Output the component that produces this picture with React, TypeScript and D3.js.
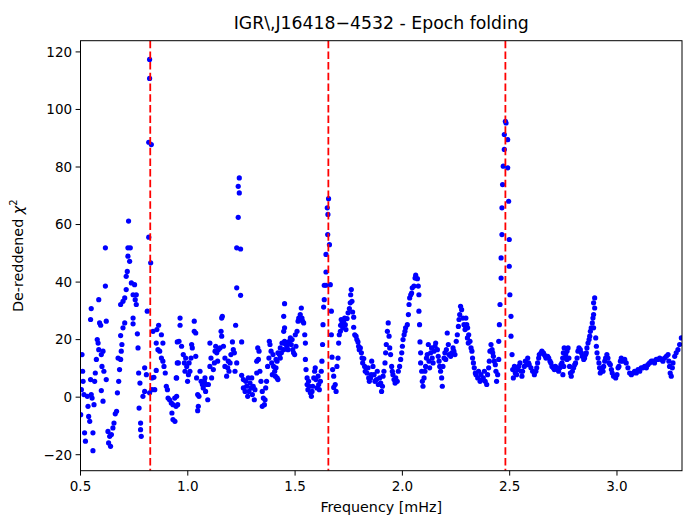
import React from "react";
import * as d3 from "d3";

const titleText = "IGR\\,J16418\u22124532 - Epoch folding";
const xLabelText = "Frequency [mHz]";
const xTicks = [0.5, 1.0, 1.5, 2.0, 2.5, 3.0];
const yTicks = [-20, 0, 20, 40, 60, 80, 100, 120];
const harmonics = [0.825, 1.655, 2.48];

// [frequency (mHz), de-reddened chi^2]
const seg1: [number, number][] = [
  [0.501,-6.1],[0.504,2.6],[0.507,14.8],[0.510,9.0],[0.512,5.5],[0.516,0.9],[0.519,-12.4],[0.523,-15.3],
  [0.532,0.3],[0.535,-3.2],[0.538,-6.7],[0.543,-8.4],[0.547,6.1],[0.547,27.0],[0.550,30.8],[0.550,0.9],
  [0.554,-0.3],[0.558,-12.4],[0.558,-18.6],[0.563,-2.6],[0.566,5.5],[0.569,8.4],[0.574,13.1],[0.578,20.0],
  [0.582,18.8],[0.585,16.5],[0.585,33.9],[0.589,25.8],[0.594,25.0],[0.597,14.8],[0.597,2.3],[0.600,10.7],
  [0.605,16.0],[0.605,-1.4],[0.609,9.0],[0.616,51.9],[0.616,38.6],[0.620,26.4],[0.620,6.1],[0.628,-11.9],
  [0.631,-15.9],[0.636,-13.6],[0.640,-17.1],[0.644,-13.0],[0.651,-10.7],[0.656,-9.0],[0.662,-5.8],[0.668,-4.9],
  [0.672,1.5],[0.675,13.6],[0.678,5.5],[0.682,9.6],[0.687,13.1],[0.687,21.4],[0.687,32.2],[0.690,16.0],
  [0.693,18.3],[0.698,24.1],[0.698,33.3],[0.706,25.8],[0.706,34.5],[0.713,37.4],[0.713,42.0],[0.718,43.7],
  [0.721,49.0],[0.721,51.9],[0.724,61.2],[0.729,47.2],[0.732,51.9],[0.737,39.7],[0.745,35.6],[0.745,27.5],
  [0.745,25.5],[0.752,39.1],[0.755,33.9],[0.760,35.6],[0.760,32.2],[0.765,22.0],[0.768,17.1],[0.771,8.4],
  [0.773,-3.8],[0.777,4.9],[0.780,-9.0],[0.780,-11.3],[0.783,-13.6],[0.791,0.3],[0.799,10.2],[0.799,2.0],
  [0.807,7.8],[0.811,29.9],[0.818,88.6],[0.818,55.6],[0.822,117.4],[0.822,110.8],[0.822,1.5],[0.827,46.7],
  [0.830,87.8],[0.833,6.7],[0.833,2.6],[0.838,22.9],[0.842,6.9],[0.846,2.6],[0.853,9.3],[0.853,18.8],
  [0.856,23.5],[0.861,16.5],[0.864,25.0],[0.869,16.0],[0.877,21.7],[0.877,13.6],[0.884,18.8],[0.884,12.5],
  [0.889,10.7],[0.895,8.4],[0.900,3.8],[0.905,2.6],[0.908,-0.3],[0.915,-0.9],[0.923,-2.0],[0.926,-5.5],
  [0.931,-2.6],[0.931,-7.8],[0.939,-0.3],[0.946,6.7],[0.951,11.9],[0.951,19.2],
];

const seg2: [number, number][] = [
  [0.940,-8.4],[0.945,-3.2],[0.948,0.3],[0.948,6.7],[0.953,-2.6],[0.956,11.9],[0.959,19.4],[0.964,27.5],
  [0.964,25.0],[0.971,17.7],[0.979,14.8],[0.984,11.9],[0.987,9.0],[0.990,13.6],[0.995,10.7],[0.999,5.5],
  [1.003,7.8],[1.006,11.9],[1.010,9.0],[1.015,13.6],[1.018,18.3],[1.021,17.1],[1.030,26.4],[1.030,22.9],
  [1.037,22.3],[1.037,14.2],[1.041,6.7],[1.046,0.9],[1.046,-4.7],[1.049,-3.2],[1.052,0.3],[1.057,9.0],
  [1.062,5.5],[1.068,4.4],[1.072,3.2],[1.077,5.5],[1.080,6.7],[1.083,2.0],[1.088,4.4],[1.093,-0.9],
  [1.096,4.4],[1.103,10.7],[1.103,18.8],[1.108,13.6],[1.111,6.7],[1.119,9.6],[1.124,11.9],[1.127,16.0],
  [1.130,17.7],[1.135,15.4],[1.139,12.5],[1.142,16.5],[1.150,17.1],[1.155,22.9],[1.158,27.5],[1.161,28.1],
  [1.158,21.2],[1.166,17.7],[1.173,13.6],[1.173,10.7],[1.181,7.3],[1.186,10.2],[1.189,12.5],[1.192,9.0],
  [1.197,11.9],[1.201,14.8],[1.208,19.2],[1.212,16.5],[1.217,15.4],[1.220,9.0],[1.223,25.0],[1.228,11.9],
  [1.228,51.9],[1.228,38.0],[1.235,73.3],[1.235,62.5],[1.240,76.2],[1.240,71.0],[1.246,51.5],[1.246,35.4],
  [1.251,19.2],[1.251,7.6],[1.259,6.1],[1.259,3.2],[1.267,2.0],[1.270,5.5],[1.274,3.8],[1.279,0.3],
  [1.282,6.7],[1.285,2.0],[1.290,4.9],[1.294,3.2],[1.298,6.7],[1.301,0.9],[1.305,3.8],[1.310,-0.9],
  [1.313,2.6],[1.321,8.4],[1.321,12.5],[1.326,17.1],[1.329,13.1],[1.332,16.0],[1.336,9.0],[1.341,5.5],
  [1.347,2.0],[1.347,-3.2],[1.352,-0.3],[1.357,-2.6],[1.360,-0.9],[1.363,3.2],[1.367,5.5],[1.372,10.7],
  [1.378,13.6],[1.380,19.4],[1.383,18.3],[1.388,16.0],[1.391,11.9],[1.394,7.8],
];

const seg3: [number, number][] = [
  [1.397,14.8],[1.400,10.7],[1.405,9.0],[1.408,7.3],[1.411,10.2],[1.411,13.1],[1.416,6.7],[1.416,12.5],
  [1.420,6.1],[1.420,15.4],[1.427,14.8],[1.431,17.1],[1.431,13.6],[1.436,15.4],[1.439,18.8],[1.447,16.5],
  [1.447,22.9],[1.447,28.1],[1.451,19.4],[1.451,24.1],[1.451,32.5],[1.455,18.5],[1.462,17.7],[1.467,16.5],
  [1.470,18.8],[1.473,19.4],[1.478,20.6],[1.482,18.3],[1.486,20.0],[1.489,16.5],[1.493,15.4],[1.498,14.8],
  [1.501,21.7],[1.504,17.7],[1.509,22.9],[1.514,26.4],[1.517,27.5],[1.520,27.0],[1.524,28.7],[1.529,31.0],
  [1.532,27.5],[1.535,26.4],[1.540,25.8],[1.545,21.7],[1.548,18.8],[1.548,13.1],[1.551,9.6],[1.556,6.7],
  [1.556,4.4],[1.560,2.6],[1.563,5.5],[1.566,3.8],[1.571,1.5],[1.576,0.3],[1.579,2.0],[1.582,3.8],
  [1.587,6.7],[1.591,9.0],[1.594,10.2],[1.597,6.1],[1.602,3.2],[1.607,7.3],[1.610,4.4],[1.613,2.6],
  [1.618,5.5],[1.622,9.0],[1.625,12.5],[1.628,18.3],[1.630,25.2],[1.633,31.3],[1.636,33.9],[1.636,38.9],
  [1.644,38.9],[1.644,43.5],[1.644,49.6],[1.652,56.5],[1.653,63.5],[1.650,65.8],[1.656,69.0],[1.660,53.0],
  [1.664,39.1],[1.669,29.9],[1.669,21.7],[1.672,13.9],[1.675,9.6],[1.680,7.3],[1.680,3.4],[1.687,4.4],
  [1.691,2.0],[1.695,10.7],[1.700,13.6],[1.703,18.8],[1.706,21.7],[1.711,22.9],[1.712,25.0],[1.715,27.0],
  [1.719,25.8],[1.722,24.1],[1.726,26.4],[1.731,27.5],[1.734,25.2],[1.737,23.5],[1.742,27.3],[1.747,29.3],
  [1.753,30.8],[1.757,32.8],[1.759,35.6],[1.762,37.4],[1.765,33.3],[1.768,29.6],[1.773,27.8],[1.773,24.3],
  [1.778,21.7],[1.784,21.2],[1.788,20.0],[1.793,19.2],[1.796,17.7],[1.799,16.5],[1.804,17.1],[1.809,15.4],
  [1.812,13.6],[1.815,11.9],[1.820,13.4],[1.824,10.7],[1.827,9.0],[1.835,8.4],[1.840,10.2],[1.843,6.7],
  [1.846,5.5],[1.855,7.8],
];

const seg4: [number, number][] = [
  [1.852,6.7],[1.857,12.5],[1.863,10.7],[1.868,7.8],[1.872,5.5],[1.879,6.1],[1.883,9.0],[1.888,4.4],
  [1.894,6.7],[1.899,4.9],[1.903,2.0],[1.907,3.8],[1.910,7.3],[1.914,9.0],[1.919,11.9],[1.922,15.4],
  [1.925,18.3],[1.930,22.9],[1.934,25.8],[1.938,21.2],[1.941,17.1],[1.945,14.8],[1.950,10.7],[1.953,9.0],
  [1.956,7.8],[1.961,6.1],[1.966,4.9],[1.969,6.7],[1.976,5.5],[1.981,9.0],[1.987,10.7],[1.992,13.1],
  [1.997,15.4],[2.000,17.7],[2.003,20.0],[2.008,21.7],[2.012,22.9],[2.015,24.1],[2.023,25.2],[2.028,28.7],
  [2.031,32.2],[2.034,34.5],[2.039,35.6],[2.043,36.2],[2.046,38.0],[2.054,38.6],[2.059,41.4],[2.062,42.4],
  [2.070,41.2],[2.074,38.6],[2.077,35.6],[2.077,29.9],[2.080,25.2],[2.082,19.2],[2.085,15.4],[2.085,11.9],
  [2.090,9.0],[2.093,5.5],[2.096,3.8],[2.101,6.7],[2.105,9.0],[2.108,10.7],[2.112,13.6],[2.116,14.8],
  [2.121,18.3],[2.124,12.5],[2.127,10.2],[2.132,15.4],[2.136,17.1],[2.139,13.6],[2.143,11.9],[2.147,16.0],
  [2.152,17.7],[2.155,18.8],[2.163,16.5],[2.167,14.2],[2.171,12.5],[2.174,10.7],[2.178,9.0],[2.183,6.7],
  [2.186,3.8],[2.189,10.7],[2.194,13.6],[2.198,15.4],[2.202,13.1],[2.205,16.5],[2.209,22.3],[2.214,18.3],
  [2.217,14.8],[2.225,14.2],[2.230,15.4],[2.236,17.1],[2.240,16.0],[2.245,14.8],[2.251,19.4],[2.256,21.7],
  [2.261,24.6],[2.264,27.0],[2.267,28.7],[2.271,31.6],[2.276,30.4],[2.282,27.5],[2.287,25.2],[2.292,23.5],
  [2.295,24.1],[2.303,20.6],[2.307,18.8],
];

const seg5: [number, number][] = [
  [2.296,27.5],[2.300,25.2],[2.304,24.1],[2.309,21.7],[2.315,19.4],[2.320,17.1],[2.324,16.0],[2.327,13.6],
  [2.331,11.9],[2.335,10.2],[2.340,8.4],[2.343,7.8],[2.351,6.7],[2.355,9.0],[2.362,5.5],[2.366,7.8],
  [2.371,6.1],[2.377,6.7],[2.382,9.0],[2.386,5.5],[2.393,4.4],[2.397,7.8],[2.402,10.2],[2.405,12.5],
  [2.408,16.0],[2.413,18.3],[2.418,16.5],[2.421,15.4],[2.424,14.2],[2.428,12.5],[2.433,11.3],[2.436,9.0],
  [2.439,5.5],[2.444,7.8],[2.449,13.1],[2.449,19.4],[2.452,25.2],[2.455,32.2],[2.460,41.4],[2.460,48.4],
  [2.464,56.5],[2.464,65.8],[2.467,73.9],[2.470,80.3],[2.475,86.1],[2.475,91.3],[2.480,95.9],[2.483,95.3],
  [2.491,89.5],[2.491,79.7],[2.495,68.1],[2.498,54.8],[2.498,45.5],[2.501,35.6],[2.506,28.1],[2.506,21.2],
  [2.511,14.8],[2.514,9.6],[2.517,6.7],[2.522,10.7],[2.526,8.4],[2.529,10.2],[2.532,7.8],[2.537,9.6],
  [2.542,10.7],[2.548,11.9],[2.553,9.0],[2.557,7.3],[2.560,9.0],[2.568,10.7],[2.573,12.5],[2.579,11.3],
  [2.584,13.6],[2.588,11.9],[2.591,11.3],[2.599,10.2],[2.607,9.0],[2.615,7.8],[2.622,9.0],[2.626,10.2],
  [2.630,11.9],[2.635,13.6],[2.638,14.8],[2.646,15.4],[2.650,16.0],[2.657,15.4],[2.661,14.8],[2.666,14.2],
  [2.669,13.6],[2.677,14.2],[2.682,13.6],[2.688,12.5],[2.692,11.9],[2.697,10.7],[2.703,10.2],[2.708,9.6],
  [2.713,10.7],[2.719,10.2],[2.723,9.6],[2.728,9.0],[2.734,10.2],[2.739,11.3],[2.744,11.9],[2.747,13.6],
  [2.750,15.4],[2.754,17.1],
];

const seg6: [number, number][] = [
  [2.748,7.8],[2.752,10.7],[2.756,13.6],[2.761,14.8],[2.767,16.0],[2.767,13.1],[2.772,17.1],[2.776,13.6],
  [2.779,10.7],[2.783,8.4],[2.787,7.3],[2.792,9.0],[2.798,10.2],[2.803,11.3],[2.807,11.9],[2.814,13.6],
  [2.818,16.0],[2.823,17.1],[2.829,16.5],[2.834,15.4],[2.838,14.2],[2.845,13.1],[2.849,13.6],[2.854,14.8],
  [2.857,15.4],[2.860,17.1],[2.865,18.8],[2.870,20.0],[2.873,21.2],[2.876,22.9],[2.880,24.1],[2.885,25.8],
  [2.888,27.5],[2.891,28.7],[2.891,32.8],[2.896,31.0],[2.896,34.5],[2.891,24.1],[2.901,20.6],[2.904,17.7],
  [2.907,15.4],[2.912,13.6],[2.916,11.9],[2.919,10.2],[2.922,8.4],[2.927,9.0],[2.932,10.2],[2.935,9.0],
  [2.938,10.7],[2.943,12.5],[2.947,13.6],[2.953,14.8],[2.958,13.6],[2.963,11.9],[2.969,11.3],[2.974,9.6],
  [2.978,8.4],[2.984,7.3],[2.994,6.7],[3.000,7.8],[3.005,10.2],[3.009,10.7],[3.016,12.5],[3.020,13.6],
  [3.028,12.5],[3.036,13.1],[3.043,11.9],[3.051,10.2],[3.059,8.4],[3.067,7.8],[3.075,8.4],[3.082,9.0],
  [3.090,8.4],[3.098,9.6],[3.106,9.0],[3.113,10.2],[3.121,10.2],[3.129,10.7],[3.137,10.2],[3.144,11.3],
  [3.152,11.9],[3.160,12.5],[3.168,12.5],[3.175,11.9],[3.183,13.1],[3.191,13.1],[3.199,13.6],[3.207,13.1],
  [3.214,12.5],[3.222,13.6],[3.230,14.2],[3.238,14.8],[3.242,12.5],[3.245,10.7],[3.248,8.4],[3.253,7.3],
  [3.258,10.2],[3.261,11.9],[3.269,14.2],[3.276,15.4],[3.284,16.5],[3.292,18.3],[3.300,20.6],
];

const W = 687;
const H = 516;
const left = 80.5;
const right = 682;
const top = 40.7;
const bottom = 470.7;
const FONT = "DejaVu Sans";

export default function App() {
  const x = d3.scaleLinear().domain([0.5, 3.303]).range([left, right]);
  const y = d3.scaleLinear().domain([-25.56, 123.9]).range([bottom, top]);
  const points = [...seg1, ...seg2, ...seg3, ...seg4, ...seg5, ...seg6];
  const fx = d3.format(".1f");
  const fy = (v: number) => d3.format("d")(v).replace("-", "\u2212");
  const tickLen = 4.9;

  return (
    <div style={{ position: "absolute", left: 0, top: 0 }}>
      <svg width={W} height={H} style={{ display: "block" }} fontFamily={FONT}>
        <rect x={0} y={0} width={W} height={H} fill="#ffffff" />
        <defs>
          <clipPath id="plotArea">
            <rect x={left} y={top} width={right - left} height={bottom - top} />
          </clipPath>
        </defs>
        <g clipPath="url(#plotArea)">
          {points.map((p, i) => (
            <circle key={i} cx={x(p[0])} cy={y(p[1])} r={2.6} fill="#0000ff" />
          ))}
          {harmonics.map((h, i) => (
            <line
              key={"h" + i}
              x1={x(h)}
              x2={x(h)}
              y1={top}
              y2={bottom}
              stroke="#ff0000"
              strokeWidth={1.8}
              strokeDasharray="7.5,3.2"
            />
          ))}
        </g>
        <rect x={left} y={top} width={right - left} height={bottom - top} fill="none" stroke="#000" strokeWidth={1} />
        {xTicks.map((t, i) => (
          <g key={"xt" + i}>
            <line x1={x(t)} x2={x(t)} y1={bottom} y2={bottom + tickLen} stroke="#000" strokeWidth={1} />
            <text x={x(t)} y={bottom + tickLen + 15} textAnchor="middle" fontSize={13.5} fill="#000">
              {fx(t)}
            </text>
          </g>
        ))}
        {yTicks.map((t, i) => (
          <g key={"yt" + i}>
            <line x1={left - tickLen} x2={left} y1={y(t)} y2={y(t)} stroke="#000" strokeWidth={1} />
            <text x={left - tickLen - 3.5} y={y(t)} dy="0.36em" textAnchor="end" fontSize={13.5} fill="#000">
              {fy(t)}
            </text>
          </g>
        ))}
        <text x={(left + right) / 2} y={512} textAnchor="middle" fontSize={14.3} fill="#000">
          {xLabelText}
        </text>
        <text
          transform={`translate(23, ${(top + bottom) / 2}) rotate(-90)`}
          textAnchor="middle"
          fontSize={14.3}
          fill="#000"
        >
          De-reddened{" "}
          <tspan fontStyle="italic">χ</tspan>
          <tspan fontSize={10} dy={-6.5}>2</tspan>
        </text>
        <text x={(left + right) / 2} y={28.5} textAnchor="middle" fontSize={17.3} fill="#000">
          {titleText}
        </text>
      </svg>
    </div>
  );
}
